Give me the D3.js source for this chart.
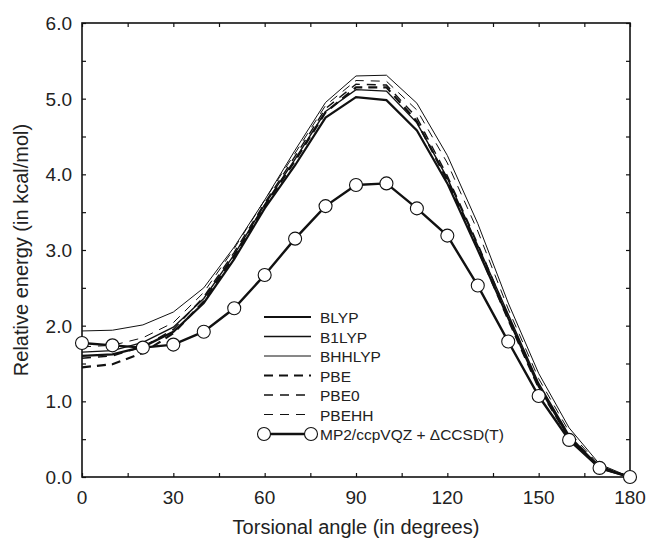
<!DOCTYPE html>
<html>
<head>
<meta charset="utf-8">
<script src="https://d3js.org/d3.v7.min.js"></script>
<style>
  body { margin: 0; background: #fff; }
  text { font-family: "Liberation Sans", Arial, Helvetica, sans-serif; fill: #222; }
</style>
</head>
<body>
<div id="chart"></div>
<script>
const WIDTH = 647, HEIGHT = 538;
const angles = [0, 10, 20, 30, 40, 50, 60, 70, 80, 90, 100, 110, 120, 130, 140, 150, 160, 170, 180];

const blyp   = [1.60, 1.62, 1.72, 1.92, 2.30, 2.88, 3.55, 4.12, 4.75, 5.02, 4.98, 4.58, 3.88, 3.00, 2.10, 1.20, 0.52, 0.12, 0.00];
const b1lyp  = [1.65, 1.67, 1.78, 1.98, 2.36, 2.94, 3.60, 4.20, 4.83, 5.12, 5.10, 4.68, 3.95, 3.06, 2.15, 1.24, 0.55, 0.13, 0.00];
const bhhlyp = [1.93, 1.94, 2.01, 2.18, 2.50, 3.04, 3.66, 4.32, 4.95, 5.30, 5.31, 4.94, 4.25, 3.35, 2.30, 1.37, 0.65, 0.17, 0.00];
const pbe    = [1.45, 1.49, 1.64, 1.90, 2.32, 2.92, 3.58, 4.18, 4.82, 5.15, 5.15, 4.70, 3.92, 3.02, 2.08, 1.18, 0.52, 0.13, 0.00];
const pbe0   = [1.57, 1.60, 1.72, 1.95, 2.38, 2.97, 3.62, 4.24, 4.87, 5.19, 5.18, 4.75, 3.98, 3.08, 2.13, 1.22, 0.55, 0.14, 0.00];
const pbehh  = [1.72, 1.74, 1.84, 2.04, 2.44, 3.02, 3.66, 4.28, 4.91, 5.24, 5.23, 4.85, 4.15, 3.25, 2.22, 1.30, 0.60, 0.15, 0.00];
const mp2    = [1.77, 1.74, 1.71, 1.75, 1.92, 2.23, 2.67, 3.15, 3.58, 3.86, 3.88, 3.55, 3.19, 2.53, 1.79, 1.07, 0.49, 0.12, 0.00];

const xTicks = [0, 30, 60, 90, 120, 150, 180];
const yTicks = [0, 1, 2, 3, 4, 5, 6];

const series = [
  { name: "BLYP",   values: blyp,   width: 2.2, dash: null },
  { name: "B1LYP",  values: b1lyp,  width: 1.4, dash: null },
  { name: "BHHLYP", values: bhhlyp, width: 1.0, dash: null },
  { name: "PBE",    values: pbe,    width: 2.2, dash: "9,6" },
  { name: "PBE0",   values: pbe0,   width: 1.4, dash: "9,7" },
  { name: "PBEHH",  values: pbehh,  width: 1.0, dash: "9,7" }
];

const margin = { left: 82, right: 17, top: 23, bottom: 61 };

const svg = d3.select("#chart")
    .append("svg")
    .attr("width", WIDTH)
    .attr("height", HEIGHT)

const x = d3.scaleLinear().domain([0, 180]).range([margin.left, WIDTH - margin.right]);
const y = d3.scaleLinear().domain([0, 6]).range([HEIGHT - margin.bottom, margin.top]);

const line = d3.line().x((d, i) => x(angles[i])).y(d => y(d));

// frame ticks, all pointing inward
const minorX = d3.range(0, 181, 15), minorY = d3.range(0, 6.01, 0.5);
svg.append("g").attr("transform", `translate(0,${y(0)})`)
    .call(d3.axisTop(x).tickValues(minorX).tickSize(4).tickFormat(""))
svg.append("g").attr("transform", `translate(0,${y(6)})`)
    .call(d3.axisBottom(x).tickValues(minorX).tickSize(4).tickFormat(""))
svg.append("g").attr("transform", `translate(${x(0)},0)`)
    .call(d3.axisRight(y).tickValues(minorY).tickSize(4).tickFormat(""))
svg.append("g").attr("transform", `translate(${x(180)},0)`)
    .call(d3.axisLeft(y).tickValues(minorY).tickSize(4).tickFormat(""))
svg.selectAll(".domain").remove();
svg.selectAll(".tick line").attr("stroke", "#111").attr("stroke-width", 1.2);

svg.append("rect")
    .attr("x", x(0)).attr("y", y(6))
    .attr("width", x(180) - x(0)).attr("height", y(0) - y(6))
    .attr("fill", "none").attr("stroke", "#111").attr("stroke-width", 1.6);

// tick labels
svg.selectAll(".xl").data(xTicks).enter().append("text")
    .attr("x", d => x(d)).attr("y", y(0) + 27)
    .attr("text-anchor", "middle").style("font-size", "19px")
    .text(d => d)
svg.selectAll(".yl").data(yTicks).enter().append("text")
    .attr("x", x(0) - 10).attr("y", d => y(d) + 7)
    .attr("text-anchor", "end").style("font-size", "19px")
    .text(d => d.toFixed(1))

svg.append("text")
    .attr("x", (x(0) + x(180)) / 2).attr("y", 534)
    .attr("text-anchor", "middle").style("font-size", "20px")
    .text("Torsional angle (in degrees)")
svg.append("text")
    .attr("transform", `translate(28,${(y(0) + y(6)) / 2}) rotate(-90)`)
    .attr("text-anchor", "middle").style("font-size", "20px")
    .text("Relative energy (in kcal/mol)")

// DFT curves
svg.selectAll(".dft").data(series).enter().append("path")
    .attr("d", d => line(d.values))
    .attr("fill", "none").attr("stroke", "#111")
    .attr("stroke-width", d => d.width)
    .attr("stroke-dasharray", d => d.dash)

// reference curve
svg.append("path")
    .attr("d", line(mp2))
    .attr("fill", "none").attr("stroke", "#111").attr("stroke-width", 2.4)
svg.selectAll(".pt").data(mp2).enter().append("circle")
    .attr("cx", (d, i) => x(angles[i])).attr("cy", d => y(d)).attr("r", 6.5)
    .attr("fill", "#fff").attr("stroke", "#111").attr("stroke-width", 1.1)

// legend
const legend = svg.append("g").attr("transform", "translate(264,317)");
const rows = series.concat([{ name: "MP2/ccpVQZ + \u0394CCSD(T)", width: 2.4, dash: null, marker: true }]);
rows.forEach((s, i) => {
    const ly = i * 19.5;
    legend.append("line")
        .attr("x1", 0).attr("x2", 47).attr("y1", ly).attr("y2", ly)
        .attr("stroke", "#111").attr("stroke-width", s.width)
        .attr("stroke-dasharray", s.dash)
    if (s.marker) {
        [0, 47].forEach(cx => legend.append("circle")
            .attr("cx", cx).attr("cy", ly).attr("r", 6.5)
            .attr("fill", "#fff").attr("stroke", "#111").attr("stroke-width", 1.1))
    }
    legend.append("text")
        .attr("x", 56).attr("y", ly + 6)
        .style("font-size", "15.5px")
        .text(s.name)
});
</script>
</body>
</html>
